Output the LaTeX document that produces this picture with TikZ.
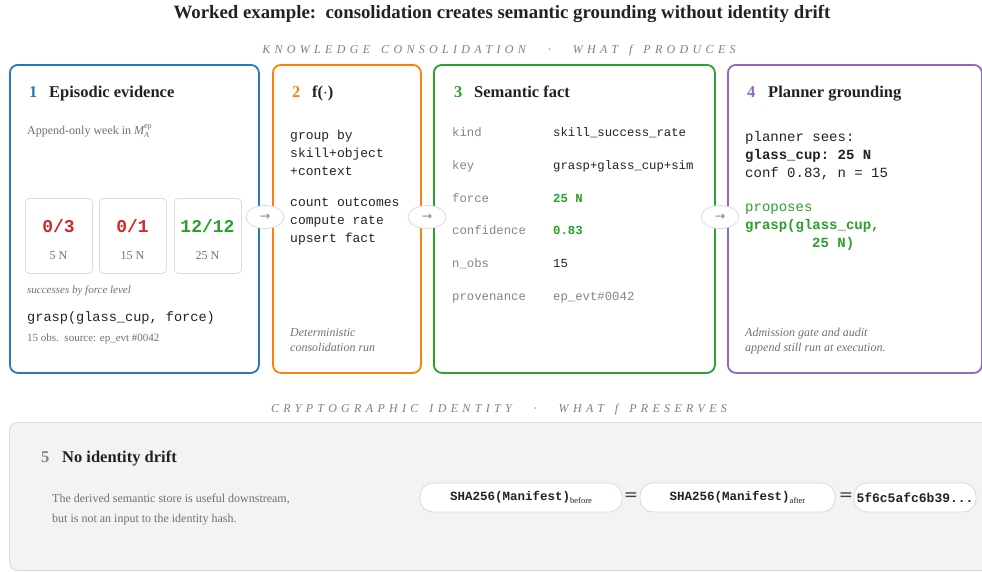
\documentclass[tikz,border=0pt]{standalone}
\usepackage{amsmath}
\usepackage{fontspec}
\setmainfont{Liberation Serif}
\setmonofont{Liberation Mono}
\newfontfamily\symfont{DejaVu Sans}
\newfontfamily\spacedfont[LetterSpace=36]{Liberation Serif}
\usetikzlibrary{shapes.geometric}
\definecolor{cblue}{HTML}{2B78B8}
\definecolor{corange}{HTML}{FF7F0E}
\definecolor{cgreen}{HTML}{2CA02C}
\definecolor{cpurple}{HTML}{9467BD}
\definecolor{cred}{HTML}{D62728}
\definecolor{tdark}{HTML}{222222}
\definecolor{tgrey}{HTML}{707070}
\definecolor{lgrey}{HTML}{858585}
\definecolor{sgrey}{HTML}{7A818B}
\definecolor{bgrey}{HTML}{D6DBE1}
\definecolor{panel}{HTML}{F1F3F5}
\newcommand{\fs}[1]{\fontsize{#1}{#1}\selectfont}
\newcommand{\wsp}{\hspace{11pt}}
\begin{document}
\begin{tikzpicture}[x=1pt,y=-1pt,
  txt/.style={inner sep=0pt, anchor=base west, text=tdark},
  card/.style={draw, line width=1.8pt, rounded corners=8pt, fill=white, anchor=north west, minimum height=308pt, inner sep=0pt},
  mini/.style={draw=bgrey, line width=0.8pt, rounded corners=4pt, fill=white, anchor=north west, minimum width=67pt, minimum height=75pt, inner sep=0pt},
  hop/.style={ellipse, draw=bgrey, line width=0.8pt, fill=white, minimum width=38pt, minimum height=23pt, inner sep=0pt, text=lgrey, font=\symfont\fs{12.5}},
  pill/.style={draw=bgrey, line width=0.8pt, rounded corners=13pt, fill=white, minimum height=29pt, inner sep=0pt},
  eqs/.style={inner sep=0pt, font=\symfont\fs{17}, text=tdark!85},
  hnum/.style={txt, font=\bfseries\fs{16.5}},
  htit/.style={txt, font=\bfseries\fs{16.5}},
  mono/.style={txt, font=\ttfamily\fs{13}},
  note/.style={txt, font=\itshape\fs{12}, text=tgrey},
  sub/.style={inner sep=0pt, anchor=base, font=\spacedfont\itshape\fs{12}, text=sgrey},
  cnt/.style={inner sep=0pt, anchor=base, font=\ttfamily\bfseries\fs{18}},
  frc/.style={inner sep=0pt, anchor=base, font=\fs{12}, text=tgrey},
  lab/.style={txt, font=\ttfamily\fs{12.3}, text=lgrey},
  val/.style={txt, font=\ttfamily\fs{12.3}, text=tdark},
  pm/.style={txt, font=\ttfamily\fs{14}}
]
\useasboundingbox[fill=white] (0,0) rectangle (982,571);

% title
\node[inner sep=0pt, anchor=base, font=\bfseries\fs{18.8}, text=tdark] (title) at (502,18) {Worked example:\ \ consolidation creates semantic grounding without identity drift};
\node[sub] (sub1) at (499,53) {KNOWLEDGE\wsp CONSOLIDATION\wsp\wsp·\wsp\wsp WHAT\wsp f\wsp PRODUCES};

% cards
\node[card, draw=cblue, minimum width=249pt] (b1) at (9,64) {};
\node[card, draw=corange, minimum width=148pt] (b2) at (272,64) {};
\node[card, draw=cgreen, minimum width=281pt] (b3) at (433,64) {};
\node[card, draw=cpurple, minimum width=254pt] (b4) at (727,64) {};

% box 1
\node[hnum, text=cblue] (n1) at (29,97) {1};
\node[htit] (t1) at (49,97) {Episodic evidence};
\node[txt, font=\fs{12}, text=tgrey] (a1) at (27,134) {Append-only week in $\textit{M}_{\textit{A}}^{\text{ep}}$};
\node[mini] (m1) at (25,198) {};
\node[mini] (m2) at (99,198) {};
\node[mini] (m3) at (174,198) {};
\node[cnt, text=cred] (c1) at (58.5,232) {0/3};
\node[cnt, text=cred] (c2) at (132.5,232) {0/1};
\node[cnt, text=cgreen] (c3) at (207.5,232) {12/12};
\node[frc] (f1) at (58.5,259) {5 N};
\node[frc] (f2) at (132.5,259) {15 N};
\node[frc] (f3) at (207.5,259) {25 N};
\node[txt, font=\itshape\fs{11}, text=tgrey] (s1) at (27,293) {successes by force level};
\node[txt, font=\ttfamily\fs{13.6}] (g1) at (27,321) {grasp(glass\_cup, force)};
\node[txt, font=\fs{11}, text=tgrey] (o1) at (27,341) {15 obs.\ \ source: ep\_evt \#0042};

% box 2
\node[hnum, text=corange] (n2) at (292,97) {2};
\node[htit] (t2) at (312,97) {f($\cdot$)};
\node[mono] (l21) at (290,139) {group by};
\node[mono] (l22) at (290,157) {skill+object};
\node[mono] (l23) at (290,175) {+context};
\node[mono] (l24) at (290,206) {count outcomes};
\node[mono] (l25) at (290,224) {compute rate};
\node[mono] (l26) at (290,242) {upsert fact};
\node[note] (d21) at (290,336) {Deterministic};
\node[note] (d22) at (290,351) {consolidation run};

% box 3
\node[hnum, text=cgreen] (n3) at (454,97) {3};
\node[htit] (t3) at (474,97) {Semantic fact};
\node[lab] (k1) at (452,136) {kind};
\node[lab] (k2) at (452,169) {key};
\node[lab] (k3) at (452,202) {force};
\node[lab] (k4) at (452,234) {confidence};
\node[lab] (k5) at (452,267) {n\_obs};
\node[lab] (k6) at (452,300) {provenance};
\node[val] (v1) at (553,136) {skill\_success\_rate};
\node[val] (v2) at (553,169) {grasp+glass\_cup+sim};
\node[val, font=\ttfamily\bfseries\fs{12.3}, text=cgreen] (v3) at (553,202) {25 N};
\node[val, font=\ttfamily\bfseries\fs{12.3}, text=cgreen] (v4) at (553,234) {0.83};
\node[val] (v5) at (553,267) {15};
\node[val, text=lgrey] (v6) at (553,300) {ep\_evt\#0042};

% box 4
\node[hnum, text=cpurple] (n4) at (747,97) {4};
\node[htit] (t4) at (768,97) {Planner grounding};
\node[pm] (p1) at (745,141) {planner sees:};
\node[pm, font=\ttfamily\bfseries\fs{14}] (p2) at (745,159) {glass\_cup: 25 N};
\node[pm] (p3) at (745,177) {conf 0.83, n = 15};
\node[pm, text=cgreen] (p4) at (745,211) {proposes};
\node[pm, font=\ttfamily\bfseries\fs{14}, text=cgreen] (p5) at (745,229) {grasp(glass\_cup,};
\node[pm, font=\ttfamily\bfseries\fs{14}, text=cgreen] (p6) at (812,247) {25 N)};
\node[note] (d41) at (745,336) {Admission gate and audit};
\node[note] (d42) at (745,351) {append still run at execution.};

% hops
\node[hop] (h1) at (265,217) {→};
\node[hop] (h2) at (427,217) {→};
\node[hop] (h3) at (720,217) {→};

% lower section
\node[sub] (sub2) at (499,412) {CRYPTOGRAPHIC\wsp IDENTITY\wsp\wsp·\wsp\wsp WHAT\wsp f\wsp PRESERVES};
\node[draw=bgrey, line width=0.9pt, fill=panel, rounded corners=8pt, anchor=north west, minimum width=990pt, minimum height=148pt, inner sep=0pt] (b5) at (9,422) {};
\node[hnum, text=lgrey] (n5) at (41,462) {5};
\node[htit] (t5) at (62,462) {No identity drift};
\node[txt, font=\fs{12}, text=tgrey] (e1) at (52,502) {The derived semantic store is useful downstream,};
\node[txt, font=\fs{12}, text=tgrey] (e2) at (52,522) {but is not an input to the identity hash.};
\node[pill, minimum width=202pt] (q1) at (521,497.5) {\ttfamily\bfseries\fs{12.5}\color{tdark}SHA256(Manifest)\raisebox{-2.5pt}{\rmfamily\mdseries\fs{8.5}before}};
\node[eqs] (eq1) at (631,497) {=};
\node[pill, minimum width=195pt] (q2) at (737.5,497.5) {\ttfamily\bfseries\fs{12.5}\color{tdark}SHA256(Manifest)\raisebox{-2.5pt}{\rmfamily\mdseries\fs{8.5}after}};
\node[eqs] (eq2) at (846,497) {=};
\node[pill, minimum width=122pt] (q3) at (915,497.5) {\ttfamily\bfseries\fs{13}\color{tdark}5f6c5afc6b39...};
\end{tikzpicture}
\end{document}
